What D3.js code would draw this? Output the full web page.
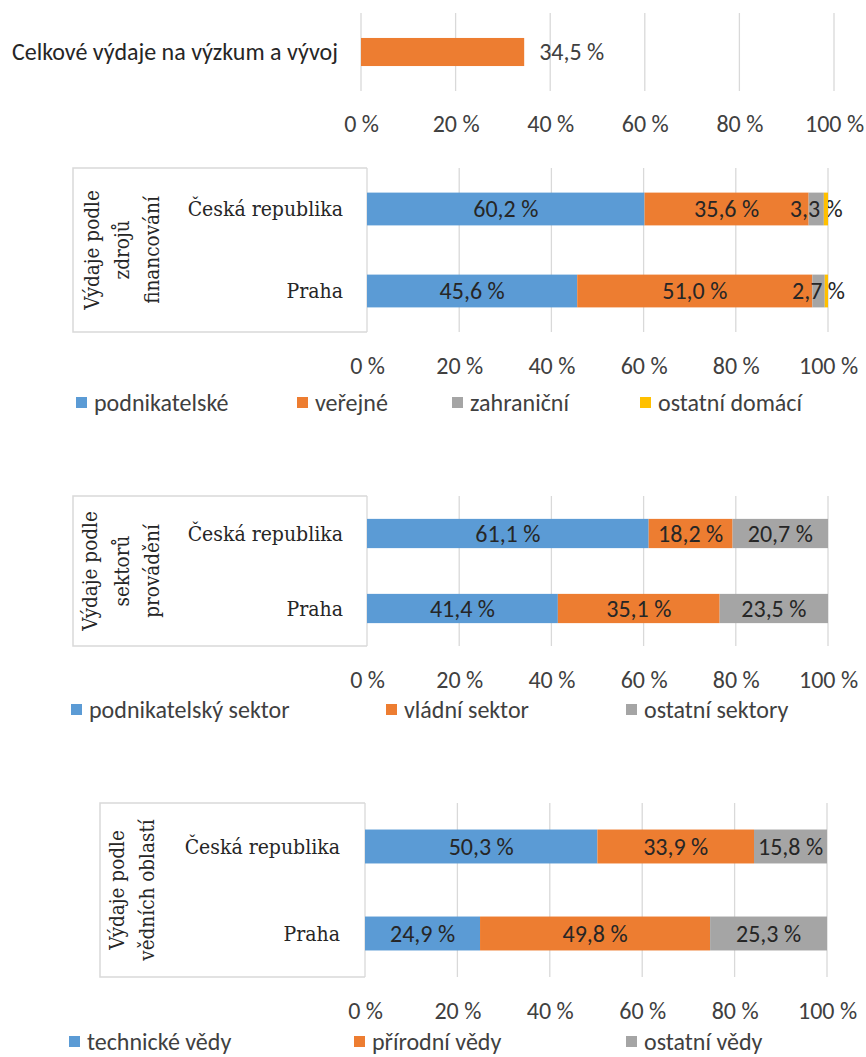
<!DOCTYPE html>
<html>
<head>
<meta charset="utf-8">
<script src="https://cdn.jsdelivr.net/npm/d3@7"></script>
<style>
  body { margin: 0; background: #fff; }
  svg { display: block; }
</style>
</head>
<body>
<div id="chart"></div>
<script>
// data
const ticks = [0, 20, 40, 60, 80, 100];
const totalName = ["Celkové výdaje na výzkum a vývoj"];
const totalValue = [34.5];
const regions = ["Česká republika", "Praha"];

const fundingSeries = ["podnikatelské", "veřejné", "zahraniční", "ostatní domácí"];
const fundingCR = [60.2, 35.6, 3.3, 0.9];
const fundingPraha = [45.6, 51.0, 2.7, 0.7];

const sectorSeries = ["podnikatelský sektor", "vládní sektor", "ostatní sektory"];
const sectorCR = [61.1, 18.2, 20.7];
const sectorPraha = [41.4, 35.1, 23.5];

const fieldSeries = ["technické vědy", "přírodní vědy", "ostatní vědy"];
const fieldCR = [50.3, 33.9, 15.8];
const fieldPraha = [24.9, 49.8, 25.3];

const colors = ["#5b9bd5", "#ed7d31", "#a5a5a5", "#ffc000"];

const width = 866, height = 1057;
const sans = "Carlito, 'Open Sans', Lato, sans-serif";
const serif = "'DejaVu Serif Condensed', 'DejaVu Serif', serif";
const gridColor = "#d9d9d9";
const fs = "24px";

const cz = d3.formatLocale({ decimal: ",", thousands: " ", grouping: [3], currency: ["", " Kč"] });
const fmt = v => cz.format(".1f")(v) + " %";

const svg = d3.select("#chart").append("svg")
  .attr("width", width)
  .attr("height", height)
  .attr("viewBox", [0, 0, width, height]);

function grid(g, x, top, bottom, tickY) {
  g.selectAll("line.grid")
    .data(ticks)
    .join("line")
    .attr("class", "grid")
    .attr("x1", d => x(d)).attr("x2", d => x(d))
    .attr("y1", top).attr("y2", bottom)
    .attr("stroke", gridColor)
    .attr("stroke-width", 1.3);

  // osa x: popisky pod grafem
  const axis = g.append("g")
    .attr("transform", `translate(0,${tickY})`)
    .call(d3.axisBottom(x).tickValues(ticks).tickFormat(d => d + " %").tickSize(0).tickPadding(0));
  axis.select(".domain").remove();
  axis.selectAll(".tick text")
    .attr("dy", "0.35em")
    .attr("y", 0)
    .style("font-family", sans)
    .style("font-size", fs)
    .style("fill", "#404040");
}

// panel 1 - celkove vydaje
{
  const top = 13, bottom = 91;
  const x = d3.scaleLinear().domain([0, 100]).range([361, 834]);
  const y = d3.scaleBand().domain(totalName).range([top, bottom]).paddingInner(0.64).paddingOuter(0.32);
  const g = svg.append("g");
  grid(g, x, top, bottom, 124);

  g.selectAll("rect.bar")
    .data(totalValue)
    .join("rect")
    .attr("class", "bar")
    .attr("x", x(0))
    .attr("y", (d, i) => y(totalName[i]))
    .attr("width", d => x(d) - x(0))
    .attr("height", y.bandwidth())
    .attr("fill", colors[1]);

  g.selectAll("text.val")
    .data(totalValue)
    .join("text")
    .attr("class", "val")
    .attr("x", d => x(d) + 15)
    .attr("y", (d, i) => y(totalName[i]) + y.bandwidth() / 2)
    .attr("dy", "0.35em")
    .style("font-family", sans)
    .style("font-size", fs)
    .style("fill", "#404040")
    .text(d => fmt(d));

  g.selectAll("text.cat")
    .data(totalName)
    .join("text")
    .attr("class", "cat")
    .attr("x", 338)
    .attr("y", d => y(d) + y.bandwidth() / 2)
    .attr("dy", "0.35em")
    .attr("text-anchor", "end")
    .style("font-family", sans)
    .style("font-size", fs)
    .style("fill", "#262626")
    .text(d => d);
}

function stacked(cfg) {
  const g = svg.append("g");
  const x = d3.scaleLinear().domain([0, 100]).range([cfg.x0, cfg.x1]);
  const y = d3.scaleBand().domain(regions).range([cfg.top, cfg.bottom])
    .paddingInner(cfg.pad).paddingOuter(cfg.pad / 2);

  const table = regions.map((r, i) => {
    const row = { region: r };
    cfg.series.forEach((s, j) => row[s] = cfg.rows[i][j]);
    return row;
  });
  const stack = d3.stack().keys(cfg.series)(table);

  // ramecek kategorii
  g.append("path")
    .attr("d", `M${cfg.x0},${cfg.top}H${cfg.boxLeft}V${cfg.bottom}H${cfg.x0}`)
    .attr("fill", "none")
    .attr("stroke", gridColor)
    .attr("stroke-width", 1.5);

  grid(g, x, cfg.top, cfg.bottom, cfg.tickY);

  const layer = g.selectAll("g.layer")
    .data(stack)
    .join("g")
    .attr("class", "layer")
    .attr("fill", (d, i) => colors[i]);

  layer.selectAll("rect")
    .data(d => d)
    .join("rect")
    .attr("x", d => x(d[0]))
    .attr("y", d => y(d.data.region))
    .attr("width", d => x(d[1]) - x(d[0]))
    .attr("height", y.bandwidth());

  layer.selectAll("text")
    .data(d => d.filter(p => p[1] - p[0] >= 2))
    .join("text")
    .attr("x", d => (x(d[0]) + x(d[1])) / 2)
    .attr("y", d => y(d.data.region) + y.bandwidth() / 2)
    .attr("dy", "0.35em")
    .attr("text-anchor", "middle")
    .style("font-family", sans)
    .style("font-size", fs)
    .style("fill", "#262626")
    .text(d => fmt(d[1] - d[0]));

  // popisky kategorii
  g.selectAll("text.cat")
    .data(regions)
    .join("text")
    .attr("class", "cat")
    .attr("x", cfg.catX)
    .attr("y", d => y(d) + y.bandwidth() / 2)
    .attr("dy", "0.35em")
    .attr("text-anchor", "end")
    .style("font-family", serif)
    .style("font-size", "21px")
    .style("fill", "#262626")
    .text(d => d);

  // svisly nadpis skupiny
  const cy = (cfg.top + cfg.bottom) / 2;
  g.selectAll("text.title")
    .data(cfg.title)
    .join("text")
    .attr("class", "title")
    .attr("transform", (d, i) => `translate(${cfg.titleX[i]},${cy}) rotate(-90)`)
    .attr("dy", "0.35em")
    .attr("text-anchor", "middle")
    .style("font-family", serif)
    .style("font-size", "20.5px")
    .style("fill", "#262626")
    .text(d => d);

  // legenda
  const leg = g.selectAll("g.leg")
    .data(cfg.series)
    .join("g")
    .attr("class", "leg")
    .attr("transform", (d, i) => `translate(${cfg.legendX[i]},${cfg.legendY})`);
  leg.append("rect")
    .attr("x", 0).attr("y", -6)
    .attr("width", 11).attr("height", 11)
    .attr("fill", (d, i) => colors[i]);
  leg.append("text")
    .attr("x", 18)
    .attr("dy", "0.35em")
    .style("font-family", sans)
    .style("font-size", fs)
    .style("fill", "#404040")
    .text(d => d);
}

stacked({
  series: fundingSeries, rows: [fundingCR, fundingPraha],
  title: ["Výdaje podle", "zdrojů", "financování"], titleX: [92, 122, 152],
  x0: 367, x1: 828, top: 168, bottom: 332, pad: 0.6, boxLeft: 73, catX: 343,
  tickY: 366, legendY: 403, legendX: [76, 297, 452, 640]
});

stacked({
  series: sectorSeries, rows: [sectorCR, sectorPraha],
  title: ["Výdaje podle", "sektorů", "provádění"], titleX: [90, 122, 152],
  x0: 367, x1: 828, top: 496, bottom: 646, pad: 0.61, boxLeft: 73, catX: 343,
  tickY: 680, legendY: 710, legendX: [71, 386, 626]
});

stacked({
  series: fieldSeries, rows: [fieldCR, fieldPraha],
  title: ["Výdaje podle", "vědních oblastí"], titleX: [117, 147],
  x0: 365, x1: 827, top: 803, bottom: 977, pad: 0.61, boxLeft: 100, catX: 340,
  tickY: 1011, legendY: 1042, legendX: [69, 354, 626]
});
</script>
</body>
</html>
